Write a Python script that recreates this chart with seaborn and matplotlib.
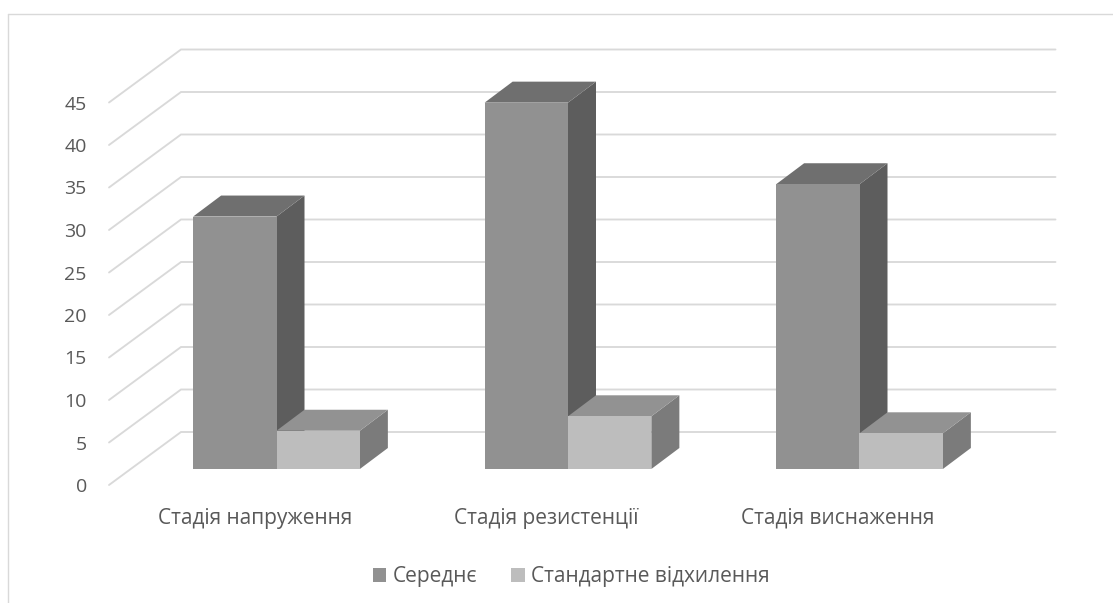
import matplotlib
matplotlib.use("Agg")
import matplotlib.pyplot as plt
from matplotlib.lines import Line2D
from matplotlib.patches import Polygon
import pandas as pd
import seaborn as sns

# Survey results by stage
stages = ["Стадія напруження", "Стадія резистенції", "Стадія виснаження"]
series_names = ["Середнє", "Стандартне відхилення"]
mean_values = [29.7, 43.1, 33.5]
std_values = [4.5, 6.2, 4.2]
y_ticks = [0, 5, 10, 15, 20, 25, 30, 35, 40, 45]

front_colors = ["#919191", "#bdbdbd"]
top_colors = ["#6f6f6f", "#929292"]
side_colors = ["#5d5d5d", "#7b7b7b"]
grid_color = "#d9d9d9"
text_color = "#595959"

W, H = 1113, 603
PX_PER_UNIT = 8.5
BAND_PX = 291.5
Y_TOP = 50

sns.set_theme(style="white")
plt.rcParams["font.family"] = ["Open Sans", "DejaVu Sans"]

fig = plt.figure(figsize=(W / 100, H / 100), dpi=100)


def axes_at(left_px, baseline_px):
    """Create axes whose category band starts at left_px and whose zero sits at baseline_px."""
    return fig.add_axes([left_px / W, (H - baseline_px) / H,
                         3 * BAND_PX / W, Y_TOP * PX_PER_UNIT / H])


# Axis plane: carries the tick labels and the floor edge of the chart box
ax_axis = axes_at(109, 485)
ax_axis.set_zorder(0)
# Bar plane: a little deeper inside the box
ax_bars = axes_at(130.75, 469)
ax_bars.set_zorder(1)
ax_bars.patch.set_visible(False)

for ax in (ax_axis, ax_bars):
    ax.set_xlim(-0.5, 2.5)
    ax.set_ylim(0, Y_TOP)
    sns.despine(ax=ax, left=True, bottom=True, right=True, top=True)

# Gridlines fold from the axis plane onto the back wall
wall_dx = 72 / BAND_PX
wall_dy = 53 / PX_PER_UNIT
for v in y_ticks:
    ax_axis.plot([-0.5, -0.5 + wall_dx, 2.5 + wall_dx],
                 [v, v + wall_dy, v + wall_dy],
                 color=grid_color, lw=1.35, clip_on=False,
                 solid_joinstyle="miter", zorder=1)

ax_axis.set_xticks(range(len(stages)), stages)
ax_axis.set_yticks(y_ticks, [str(v) for v in y_ticks])
ax_axis.tick_params(axis="x", length=0, pad=16.5, labelsize=15, labelcolor=text_color)
ax_axis.tick_params(axis="y", length=0, pad=16, labelsize=14, labelcolor=text_color)

# Front faces
data = pd.DataFrame({
    "stage": stages * 2,
    "series": [series_names[0]] * 3 + [series_names[1]] * 3,
    "value": mean_values + std_values,
})
sns.barplot(data=data, x="stage", y="value", hue="series", hue_order=series_names,
            order=stages, palette=front_colors, saturation=1, width=0.572, gap=0,
            linewidth=0, legend=False, ax=ax_bars)
ax_bars.set_xlim(-0.5, 2.5)
ax_bars.set_ylim(0, Y_TOP)
ax_bars.set_xlabel("")
ax_bars.set_ylabel("")
ax_bars.set_xticks([])
ax_bars.set_yticks([])

# Side and top faces extruded from each front face
depth_dx = 28 / BAND_PX
depth_dy = 21 / PX_PER_UNIT
for container, top_c, side_c in zip(ax_bars.containers, top_colors, side_colors):
    for bar in container:
        x0, x1 = bar.get_x(), bar.get_x() + bar.get_width()
        h = bar.get_height()
        ax_bars.add_patch(Polygon(
            [(x1, 0), (x1 + depth_dx, depth_dy), (x1 + depth_dx, h + depth_dy), (x1, h)],
            closed=True, facecolor=side_c, edgecolor="none", clip_on=False, zorder=bar.get_zorder()))
        ax_bars.add_patch(Polygon(
            [(x0, h), (x0 + depth_dx, h + depth_dy), (x1 + depth_dx, h + depth_dy), (x1, h)],
            closed=True, facecolor=top_c, edgecolor="none", clip_on=False, zorder=bar.get_zorder()))
        bar.set_zorder(bar.get_zorder() + 0.5)

for patch in ax_bars.patches:
    patch.set_clip_on(False)

fig.legend(handles=[c[0] for c in ax_bars.containers], labels=series_names,
           loc="center", bbox_to_anchor=(571 / W, (H - 576.5) / H), ncol=2, frameon=False,
           fontsize=15, labelcolor=text_color, handlelength=0.67, handleheight=0.67,
           handletextpad=0.3, columnspacing=1.6, borderpad=0, borderaxespad=0)

# Chart frame, running off the right and bottom of the canvas
fig.add_artist(Line2D([8 / W, 8 / W], [0, (H - 13.5) / H], color=grid_color, lw=1))
fig.add_artist(Line2D([8 / W, 1], [(H - 13.5) / H, (H - 13.5) / H], color=grid_color, lw=1))

fig.savefig("out.png", dpi=100, facecolor="white")
